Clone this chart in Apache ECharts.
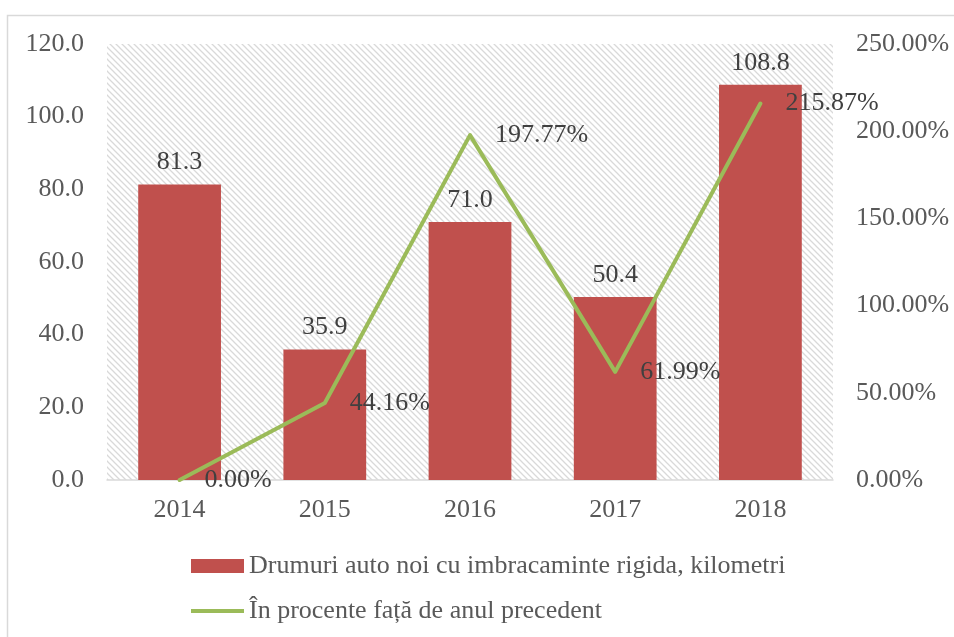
<!DOCTYPE html>
<html>
<head>
<meta charset="utf-8">
<script src="https://cdn.jsdelivr.net/npm/echarts@6/dist/echarts.min.js"></script>
<style>
  html, body { margin: 0; padding: 0; background: #fff; }
  #chart { width: 954px; height: 637px; }
</style>
</head>
<body>
<div id="chart"></div>
<script>
const years = ['2014', '2015', '2016', '2017', '2018']
const roadKm = [81.3, 35.9, 71.0, 50.4, 108.8]
const pctPrev = [0.00, 44.16, 197.77, 61.99, 215.87]
const barName = 'Drumuri auto noi cu imbracaminte rigida, kilometri'
const lineName = 'În procente față de anul precedent'

const FONT = '"Liberation Serif", "Times New Roman", serif'

// diagonal hatch tile for the plot background
function hatchTile() {
  const s = 6
  const c = document.createElement('canvas')
  c.width = s
  c.height = s
  const ctx = c.getContext('2d')
  ctx.strokeStyle = '#d9d9d9'
  ctx.lineWidth = 1.3
  ctx.beginPath()
  ctx.moveTo(-1, -1); ctx.lineTo(s + 1, s + 1)
  ctx.moveTo(-1, s - 1); ctx.lineTo(1, s + 1)
  ctx.moveTo(s - 1, -1); ctx.lineTo(s + 1, 1)
  ctx.stroke()
  return c
}

const chart = echarts.init(document.getElementById('chart'))

chart.setOption({
  backgroundColor: '#fff',
  animation: false,
  graphic: [{
    type: 'rect',
    shape: { x: 7.5, y: 15.5, width: 1000, height: 1000 },
    style: { fill: 'none', stroke: '#d9d9d9', lineWidth: 1.5 },
    silent: true
  }],
  grid: {
    left: 107, right: 121, top: 44, bottom: 157,
    show: true, borderWidth: 0,
    backgroundColor: { image: hatchTile(), repeat: 'repeat' }
  },
  legend: {
    orient: 'vertical',
    left: 186, top: 547,
    itemWidth: 53, itemHeight: 14,
    itemGap: 17,
    textStyle: { fontFamily: FONT, fontSize: 26, color: '#595959', lineHeight: 28 },
    data: [
      { name: barName, icon: 'rect' },
      { name: lineName, icon: 'path://M0,0L53,0L53,4L0,4Z' }
    ]
  },
  xAxis: {
    type: 'category',
    data: years,
    axisLine: { lineStyle: { color: '#d9d9d9', width: 1.5 } },
    axisTick: { show: false },
    axisLabel: { fontFamily: FONT, fontSize: 26, color: '#595959', margin: 17 }
  },
  yAxis: [
    {
      type: 'value', min: 0, max: 120, interval: 20,
      splitLine: { show: false },
      axisLine: { show: false }, axisTick: { show: false },
      axisLabel: {
        fontFamily: FONT, fontSize: 26, color: '#595959', margin: 23,
        formatter: v => v.toFixed(1)
      }
    },
    {
      type: 'value', min: 0, max: 250, interval: 50,
      splitLine: { show: false },
      axisLine: { show: false }, axisTick: { show: false },
      axisLabel: {
        fontFamily: FONT, fontSize: 26, color: '#595959', margin: 23,
        formatter: v => v.toFixed(2) + '%'
      }
    }
  ],
  series: [
    {
      name: barName,
      type: 'bar',
      data: roadKm,
      barWidth: '57%',
      itemStyle: { color: '#C0504D' },
      label: {
        show: true, position: 'top', distance: 9,
        fontFamily: FONT, fontSize: 26, color: '#404040',
        formatter: p => p.value.toFixed(1)
      }
    },
    {
      name: lineName,
      type: 'line',
      yAxisIndex: 1,
      data: pctPrev,
      symbol: 'circle',
      symbolSize: 0,
      showSymbol: true,
      lineStyle: { color: '#9BBB59', width: 4, cap: 'round', join: 'round' },
      itemStyle: { color: '#9BBB59' },
      label: {
        show: true, position: 'right', distance: 25,
        fontFamily: FONT, fontSize: 26, color: '#404040',
        formatter: p => p.value.toFixed(2) + '%'
      }
    }
  ]
})
</script>
</body>
</html>
